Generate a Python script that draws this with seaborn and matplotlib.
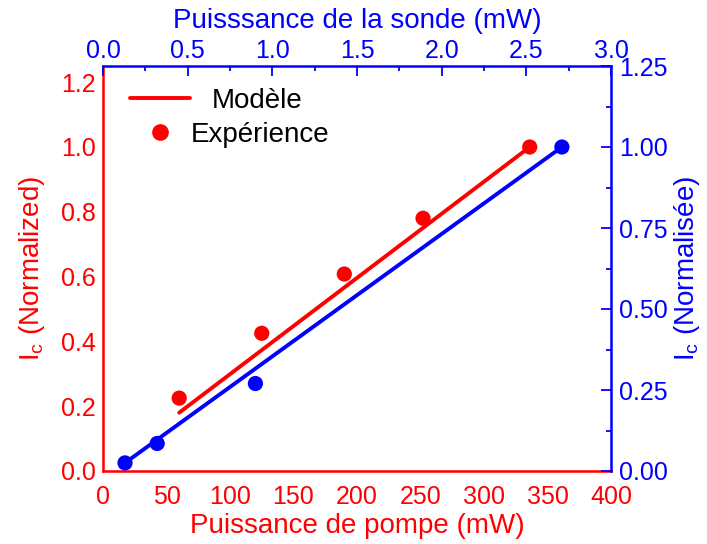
import matplotlib
matplotlib.use("Agg")
import matplotlib.pyplot as plt
import seaborn as sns
from matplotlib.ticker import MultipleLocator, FormatStrFormatter
from matplotlib.lines import Line2D

# Pump data (bottom / left axes, red)
pump_x = [60, 125, 190, 252, 336]
pump_y = [0.225, 0.425, 0.608, 0.78, 1.0]
pump_model_x = [60, 336]
pump_model_y = [0.18, 1.0]

# Probe data (top / right axes, blue)
probe_x = [0.13, 0.32, 0.90, 2.71]
probe_y = [0.025, 0.085, 0.27, 1.0]
probe_model_x = [0.13, 2.71]
probe_model_y = [0.025, 1.0]

sns.set_style("white")
plt.rcParams['font.family'] = ['Liberation Sans', 'DejaVu Sans']
plt.rcParams['mathtext.fontset'] = 'custom'
plt.rcParams['mathtext.rm'] = 'Liberation Sans'
plt.rcParams['mathtext.it'] = 'Liberation Sans'

RED = "#ff0000"
BLUE = "#0000ff"
TFS = 18
LFS = 20

fig = plt.figure(figsize=(7.07, 5.44), dpi=100)
pos = [103/707, 1-471/544, (611-103)/707, (471-66)/544]
ax = fig.add_axes(pos)
ax2 = fig.add_axes(pos)
ax2.patch.set_visible(False)

# red
sns.lineplot(x=pump_model_x, y=pump_model_y, ax=ax, color=RED, lw=2.8)
sns.scatterplot(x=pump_x, y=pump_y, ax=ax, color=RED, s=120, edgecolor='none', zorder=3)
# blue
sns.lineplot(x=probe_model_x, y=probe_model_y, ax=ax2, color=BLUE, lw=2.8)
sns.scatterplot(x=probe_x, y=probe_y, ax=ax2, color=BLUE, s=120, edgecolor='none', zorder=3)

ax.set_xlim(0, 400)
ax.set_ylim(0, 1.25)
ax2.set_xlim(0, 3.0)
ax2.set_ylim(0, 1.25)

ax.xaxis.set_major_locator(MultipleLocator(50))
ax.xaxis.set_minor_locator(MultipleLocator(25))
ax.yaxis.set_major_locator(MultipleLocator(0.2))
ax.yaxis.set_minor_locator(MultipleLocator(0.1))
ax.yaxis.set_major_formatter(FormatStrFormatter('%.1f'))

ax2.xaxis.set_major_locator(MultipleLocator(0.5))
ax2.xaxis.set_minor_locator(MultipleLocator(0.25))
ax2.yaxis.set_major_locator(MultipleLocator(0.25))
ax2.yaxis.set_minor_locator(MultipleLocator(0.125))
ax2.xaxis.set_major_formatter(FormatStrFormatter('%.1f'))
ax2.yaxis.set_major_formatter(FormatStrFormatter('%.2f'))

ax2.xaxis.tick_top()
ax2.xaxis.set_label_position('top')
ax2.yaxis.tick_right()
ax2.yaxis.set_label_position('right')

for s in ['top', 'right']:
    ax.spines[s].set_visible(False)
for s in ['left', 'bottom']:
    ax2.spines[s].set_visible(False)
for s in ['left', 'bottom']:
    ax.spines[s].set_color(RED)
    ax.spines[s].set_linewidth(1.8)
for s in ['top', 'right']:
    ax2.spines[s].set_color(BLUE)
    ax2.spines[s].set_linewidth(1.8)

ax.tick_params(axis='both', which='both', direction='in', colors=RED, labelsize=TFS,
               top=False, right=False, width=1.3)
ax.tick_params(which='major', length=7)
ax.tick_params(which='minor', length=3.5)
ax.tick_params(axis='x', pad=10)
ax.tick_params(axis='y', pad=5)
ax2.tick_params(axis='both', which='both', direction='in', colors=BLUE, labelsize=TFS,
                bottom=False, left=False, top=True, right=True, width=1.3)
ax2.tick_params(which='major', length=7)
ax2.tick_params(which='minor', length=3.5)
ax2.tick_params(axis='x', pad=2)
ax2.tick_params(axis='y', pad=6)

ax.set_xlabel("Puissance de pompe (mW)", color=RED, fontsize=LFS, labelpad=3)
ax.set_ylabel(r"I$_\mathregular{c}$ (Normalized)", color=RED, fontsize=LFS, labelpad=10)
ax2.set_xlabel("Puisssance de la sonde (mW)", color=BLUE, fontsize=LFS, labelpad=8)
ax2.set_ylabel(r"I$_\mathregular{c}$ (Normalisée)", color=BLUE, fontsize=LFS, labelpad=3)

leg1 = ax.legend([Line2D([0], [0], color=RED, lw=2.8)], ["Modèle"],
                 loc='center left', bbox_to_anchor=(130/707, 1-101/544),
                 bbox_transform=fig.transFigure, frameon=False, fontsize=LFS,
                 handlelength=2.15, handletextpad=0.8, borderpad=0, borderaxespad=0,
                 labelcolor='black')
ax.add_artist(leg1)
leg2 = ax.legend([Line2D([0], [0], color=RED, marker='o', ls='none', markersize=11)],
                 ["Expérience"],
                 loc='center left', bbox_to_anchor=(146/707, 1-135/544),
                 bbox_transform=fig.transFigure, frameon=False, fontsize=LFS,
                 handlelength=1.0, handletextpad=0.6, borderpad=0, borderaxespad=0,
                 labelcolor='black')

fig.savefig("out.png", dpi=100)
